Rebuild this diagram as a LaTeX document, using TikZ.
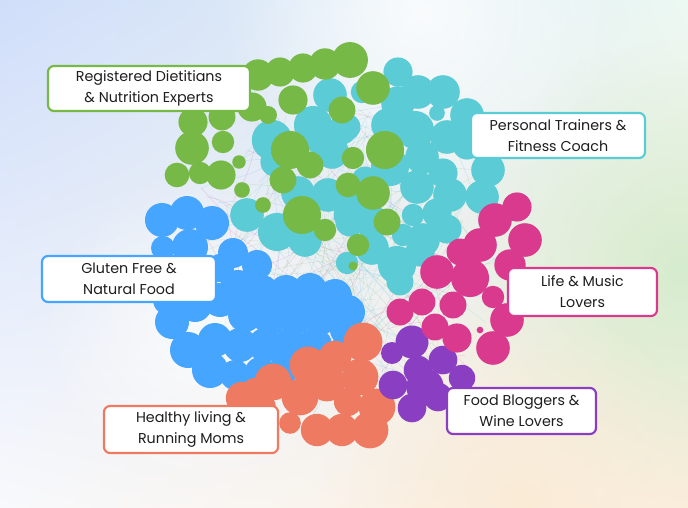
\documentclass[tikz,border=0pt]{standalone}
\usepackage{fontspec}
\setmainfont{Poppins}
\usetikzlibrary{shadings,fadings}
\definecolor{cgreen}{HTML}{76B947}
\definecolor{ccyan}{HTML}{5BCBD6}
\definecolor{cblue}{HTML}{45A5FF}
\definecolor{cmag}{HTML}{D93A8E}
\definecolor{corange}{HTML}{EE7A62}
\definecolor{cpurple}{HTML}{8A3FC2}
\definecolor{ctext}{HTML}{1E1E1E}
\definecolor{bgul}{RGB}{208,222,250}
\definecolor{bgur}{RGB}{236,248,242}
\definecolor{bgll}{RGB}{248,249,252}
\definecolor{bglr}{RGB}{251,238,220}
\definecolor{bggreen}{RGB}{214,236,206}
\definecolor{bgpeach}{RGB}{250,234,212}
\tikzfading[name=glow,inner color=transparent!0,outer color=transparent!100]
\begin{document}
\begin{tikzpicture}[x=1pt,y=-1pt,
  lbl/.style={draw,line width=2.2pt,fill=white,rounded corners=6pt,align=center,
    text=ctext,font=\fontsize{14.3}{21}\selectfont,inner sep=0pt},
  edge/.style={line width=0.4pt,opacity=0.22}]
\useasboundingbox (0,0) rectangle (688,508);
% background
\begin{scope}
\clip (0,0) rectangle (688,508);
\shade[upper left=bgul,upper right=bgur,lower left=bgll,lower right=bglr]
  (0,0) rectangle (688,508);
\fill[bggreen,path fading=glow] (680,270) circle (230pt);
\fill[bgpeach,path fading=glow,opacity=0.8] (520,500) circle (200pt);
\fill[white,path fading=glow,opacity=0.8] (420,10) circle (200pt);
\fill[white,path fading=glow,opacity=0.7] (200,330) circle (160pt);
\end{scope}
% faint network
\pgfmathsetseed{11}
\foreach \c in {cblue,cmag,cgreen,ccyan} {
  \foreach \i in {1,...,45} {
    \pgfmathsetmacro\aa{rnd*360}\pgfmathsetmacro\ra{sqrt(rnd)*165}
    \pgfmathsetmacro\ab{rnd*360}\pgfmathsetmacro\rb{sqrt(rnd)*165}
    \draw[edge,\c] ({345+\ra*cos(\aa)},{255+\ra*sin(\aa)}) to[bend left=15] ({345+\rb*cos(\ab)},{255+\rb*sin(\ab)});
  }
}
% personal trainers
\foreach \x/\y/\r in {330/95/15,313/125/17,272/140/18,275/162/13,298/193/15,328/195/15,342/130/13,
  332/152/15,247/215/15,277/232/17,305/240/15,347/215/12,398/72/13,418/92/15,443/92/15,437/113/7,
  398/103/15,388/125/15,415/130/17,447/137/15,467/115/15,467/145/13,422/157/15,443/173/13,417/187/15,
  390/167/17,488/170/15,482/197/15,450/195/15,413/215/10,437/213/13,447/229/13,423/240/15,403/235/10,
  372/222/15,350/222/13,347/127/12,362/92/10,397/265/17,420/252/13,372/248/15,347/263/10,400/282/12,
  365/180/12,355/200/12,318/140/12}
  \fill[ccyan] (\x,\y) circle ({1.12*\r pt});
% dietitians
\foreach \x/\y/\r in {258/75/14,280/72/13,303/68/13,325/64/14,350/60/16,373/88/15,293/100/13,268/115/8,
  252/107/13,222/117/12,193/122/13,192/148/15,223/142/10,177/175/11,200/173/10,221/175/13,239/162/6,
  242/190/7,263/205/7,290/150/17,310/165/12,283/180/12,302/215/17,325/230/10,342/110/12,353/158/10,
  348/185/11,385/150/17,373/193/15,387/222/12,358/245/10,353/266/4}
  \fill[cgreen] (\x,\y) circle ({1.12*\r pt});
% gluten free
\foreach \x/\y/\r in {162/220/17,187/213/17,212/223/17,163/248/12,190/247/18,220/268/14,233/253/15,
  257/265/15,238/288/18,262/292/17,286/292/17,310/290/17,335/296/17,348/312/17,345/330/15,320/318/17,
  295/318/17,270/318/17,245/315/17,220/300/17,195/305/17,172/322/17,168/300/15,188/350/18,215/340/17,
  240/345/17,265/345/17,290/345/17,315/345/17,340/350/12,210/370/18,235/375/15,260/372/15,285/368/15,
  310/363/12}
  \fill[cblue] (\x,\y) circle (\r pt);
% running moms
\foreach \x/\y/\r in {363/342/18,335/357/15,308/365/17,273/382/17,242/398/15,300/397/17,327/383/17,
  360/377/17,377/407/17,348/402/13,290/423/10,317/430/15,342/430/15,370/430/17,263/407/12,255/392/13}
  \fill[corange] (\x,\y) circle ({1.08*\r pt});
% food bloggers
\foreach \x/\y/\r in {412/342/15,392/353/10,418/370/13,443/360/13,462/378/12,393/385/13,425/387/17,
  412/408/13,438/397/13}
  \fill[cpurple] (\x,\y) circle ({1.1*\r pt});
% life and music
\foreach \x/\y/\r in {517/207/13,495/220/15,525/240/15,480/245/15,460/252/12,437/272/15,470/278/17,
  493/297/10,422/302/12,400/312/12,453/305/12,435/327/12,457/338/13,493/348/15,507/320/15,480/330/3,
  510/265/14}
  \fill[cmag] (\x,\y) circle ({1.12*\r pt});
% labels
\node[lbl,draw=cgreen,minimum width=202pt,minimum height=45pt] (diet) at (149,88.5)
  {Registered Dietitians\\\& Nutrition Experts};
\node[lbl,draw=ccyan,minimum width=174pt,minimum height=45pt] (trainer) at (558,135.5)
  {Personal Trainers \&\\Fitness Coach};
\node[lbl,draw=cblue,minimum width=174pt,minimum height=46pt] (gluten) at (129,279)
  {Gluten Free \&\\Natural Food};
\node[lbl,draw=cmag,minimum width=149pt,minimum height=48pt] (music) at (582.5,292)
  {Life \& Music\\Lovers};
\node[lbl,draw=corange,minimum width=174pt,minimum height=47pt] (moms) at (191,429.5)
  {Healthy living \&\\Running Moms};
\node[lbl,draw=cpurple,minimum width=149pt,minimum height=46pt] (wine) at (521.5,411)
  {Food Bloggers \&\\Wine Lovers};
\end{tikzpicture}
\end{document}
